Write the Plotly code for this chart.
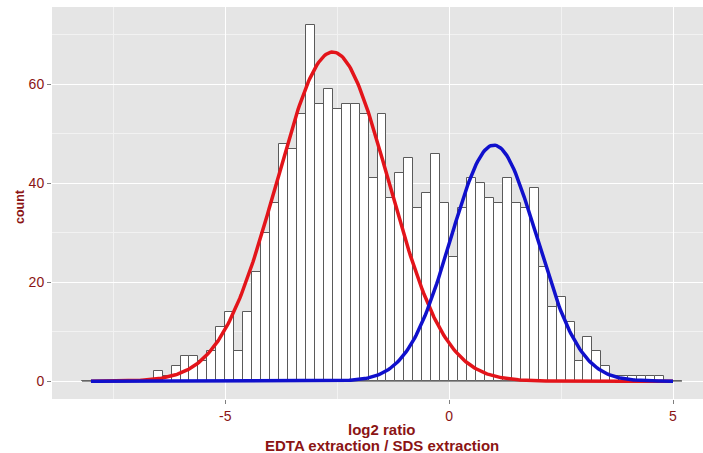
import numpy as np
import plotly.graph_objects as go

# Histogram bins (binwidth 0.2) and counts
bin_width = 0.2
bin_start = -8.2
counts = [
    0, 0, 0, 0, 0, 0, 0, 0,          # -8.2 .. -6.6
    2, 1, 3, 5, 5, 4, 6, 11, 14, 6,  # -6.6 .. -4.6
    14, 22, 30, 36, 48, 47, 54, 72, 56, 59,  # -4.6 .. -2.6
    55, 56, 56, 54, 41, 54, 37, 42, 45, 35,  # -2.6 .. -0.6
    38, 46, 36, 25, 35, 41, 40, 37, 36, 41,  # -0.6 .. 1.4
    36, 35, 39, 23, 15, 17, 12, 4, 9, 6,     # 1.4 .. 3.4
    3, 1, 1, 1, 1, 1, 1, 0, 0,               # 3.4 .. 5.2
]
edges = bin_start + bin_width * np.arange(len(counts) + 1)
centers = (edges[:-1] + edges[1:]) / 2

# Fitted normal curves (peak height, mean, sd)
red_peak, red_mu, red_sd = 66.5, -2.6, 1.25
blue_peak, blue_mu, blue_sd = 47.7, 1.0, 0.96
curve_lo, curve_hi = -8.0, 5.0

x_ticks = [-5, 0, 5]
x_minor = [-7.5, -2.5, 2.5]
y_ticks = [0, 20, 40, 60]
y_minor = [10, 30, 50, 70]

xc = np.linspace(curve_lo, curve_hi, 400)
red_y = red_peak * np.exp(-((xc - red_mu) ** 2) / (2 * red_sd ** 2))
blue_y = blue_peak * np.exp(-((xc - blue_mu) ** 2) / (2 * blue_sd ** 2))

text_col = "#8b1414"
font_family = "Liberation Sans, Arial, sans-serif"

fig = go.Figure()
fig.add_trace(go.Scatter(x=[edges[0], edges[-1]], y=[0, 0], mode="lines",
                         line=dict(color="#6e6e6e", width=1.2), hoverinfo="skip"))
fig.add_trace(go.Bar(x=centers, y=counts, width=bin_width,
                     marker=dict(color="white", line=dict(color="#5a5a5a", width=1))))
fig.add_trace(go.Scatter(x=xc, y=red_y, mode="lines",
                         line=dict(color="#e3141a", width=3.5)))
fig.add_trace(go.Scatter(x=xc, y=blue_y, mode="lines",
                         line=dict(color="#1010cc", width=3.5)))

fig.update_layout(
    width=703, height=453, autosize=False,
    margin=dict(l=52, r=0, t=7, b=54),
    paper_bgcolor="white", plot_bgcolor="#e5e5e5",
    showlegend=False, bargap=0,
    font=dict(family=font_family, color=text_col, size=14),
)
fig.update_xaxes(
    range=[-8.87, 5.67], tickvals=x_ticks, ticktext=[str(v) for v in x_ticks],
    showgrid=True, gridcolor="white", gridwidth=1.2, zeroline=False,
    ticks="outside", ticklen=4, tickcolor="#7f7f7f", tickwidth=1,
    tickfont=dict(size=14, color=text_col),
    minor=dict(tickvals=x_minor, showgrid=True, gridcolor="#f2f2f2", gridwidth=0.6, ticks=""),
)
fig.update_yaxes(
    range=[-3.6, 75.6], tickvals=y_ticks, ticktext=[str(v) for v in y_ticks],
    showgrid=True, gridcolor="white", gridwidth=1.2, zeroline=False,
    ticks="outside", ticklen=4, tickcolor="#7f7f7f", tickwidth=1,
    tickfont=dict(size=14, color=text_col),
    minor=dict(tickvals=y_minor, showgrid=True, gridcolor="#f2f2f2", gridwidth=0.6, ticks=""),
)

fig.add_annotation(text="<b>count</b>", xref="paper", yref="paper",
                   x=-0.049, y=0.49, textangle=-90, showarrow=False,
                   xanchor="center", yanchor="middle",
                   font=dict(size=12.5, color=text_col, family=font_family))
fig.add_annotation(text="<b>log2 ratio</b>", xref="paper", yref="paper",
                   x=0.507, y=-0.077, showarrow=False,
                   xanchor="center", yanchor="middle",
                   font=dict(size=15, color=text_col, family=font_family))
fig.add_annotation(text="<b>EDTA extraction / SDS extraction</b>", xref="paper", yref="paper",
                   x=0.507, y=-0.118, showarrow=False,
                   xanchor="center", yanchor="middle",
                   font=dict(size=15, color=text_col, family=font_family))

fig.write_html(
    "out.html",
    config={"displayModeBar": False},
    post_script="document.body.style.margin='0';document.body.style.padding='0';document.body.style.overflow='hidden';",
)
